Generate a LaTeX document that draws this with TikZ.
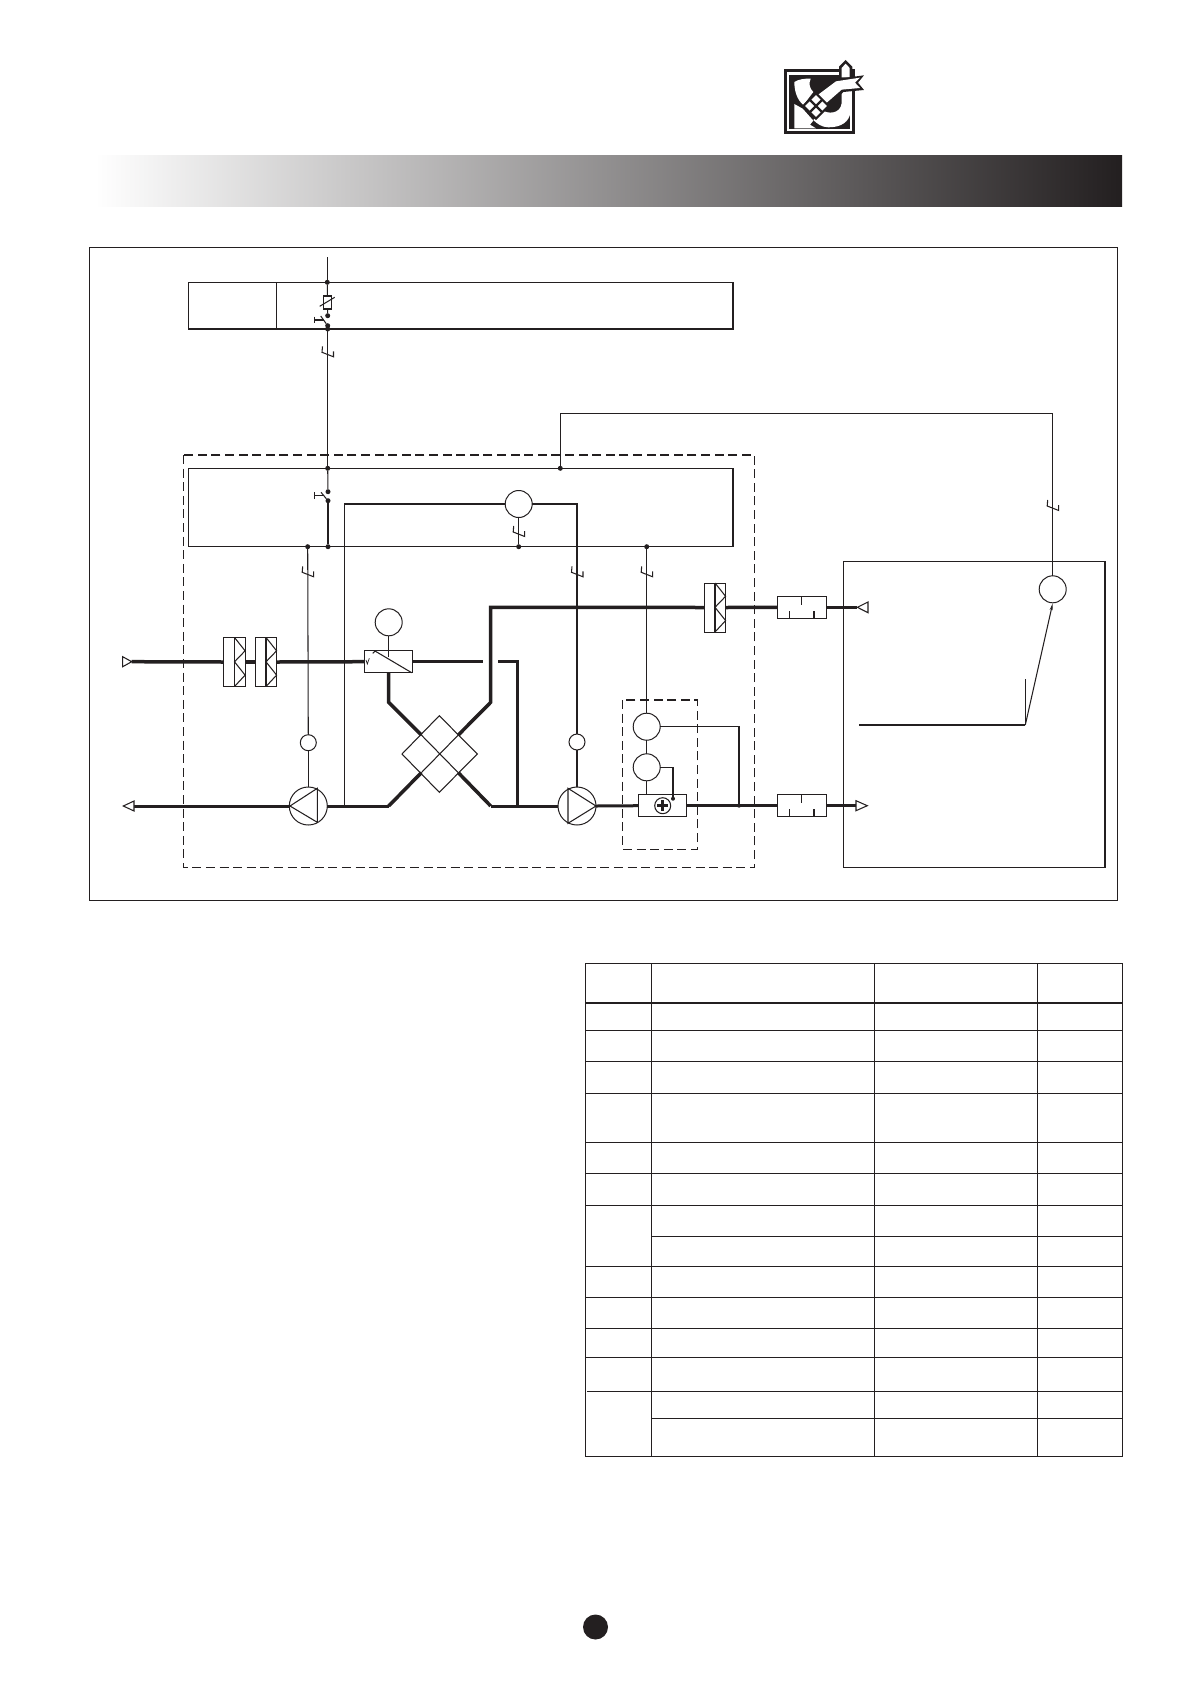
\documentclass[tikz,border=0pt]{standalone}
\usetikzlibrary{arrows.meta,shapes.geometric}
\definecolor{ink}{HTML}{231F20}
\tikzset{
  wire/.style={line width=1.05pt,draw=ink},
  sym/.style={line width=1.05pt,draw=ink},
  duct/.style={line width=3.5pt,draw=ink,line join=miter},
  ductm/.style={line width=3pt,draw=ink,line join=miter},
  dashbox/.style={line width=1.1pt,draw=ink,dash pattern=on 9pt off 4.6pt},
  grid/.style={line width=1pt,draw=ink},
  jdot/.style={circle,fill=ink,inner sep=0pt,minimum size=5pt,outer sep=0pt},
  bigc/.style={circle,draw=ink,line width=1pt,fill=white,inner sep=0pt,minimum size=27pt,outer sep=0pt},
  smallc/.style={circle,draw=ink,line width=1pt,fill=white,inner sep=0pt,minimum size=16pt,outer sep=0pt},
  pumpc/.style={circle,draw=ink,line width=1pt,fill=white,inner sep=0pt,minimum size=38pt,outer sep=0pt},
  filterbox/.style={rectangle,draw=ink,line width=1pt,fill=white,inner sep=0pt,minimum width=21.8pt,minimum height=49pt,outer sep=0pt},
  silencer/.style={rectangle,draw=ink,line width=1pt,fill=white,inner sep=0pt,minimum width=48.7pt,minimum height=22pt,outer sep=0pt},
  devbox/.style={rectangle,draw=ink,line width=1pt,fill=white,inner sep=0pt,minimum width=48.3pt,minimum height=22pt,outer sep=0pt},
  ctick/.pic={\draw[wire] (-5,-7) -- (-5.5,-1) -- (6,3.5) -- (6,-2);},
}
\newcommand{\filterzig}[1]{\draw[sym] (#1.north) -- (#1.south);
  \draw[sym] (#1.north) -- ++(10.6,13.3) -- ++(-10.6,11) -- ++(10.6,13.3) -- (#1.south);}
\newcommand{\silencerticks}[1]{\draw[sym] (#1.north) -- ++(0,8.5);
  \draw[sym] (#1.south) ++(-12.3,0) -- ++(0,-7.3);
  \draw[sym] (#1.south) ++(12.3,0) -- ++(0,-7.3);}
\begin{document}
\begin{tikzpicture}[x=1pt,y=-1pt]
\useasboundingbox (0,0) rectangle (1190,1684);
% header bar
\shade[left color=white,right color=ink] (95,155.3) rectangle (1122,206.9);
% logo
\begin{scope}[shift={(760,40)},x=0.3333pt,y=-0.3333pt]
  \fill[ink] (72,88) rectangle (285,282);
  \fill[white] (80,96) rectangle (276,274);
  \fill[ink] (87,104) rectangle (271,266);
  % house
  \fill[ink] (237,112) -- (237,80) -- (257,60) -- (277,80) -- (277,112) -- cycle;
  \fill[white] (245,112) -- (245,84) -- (257,71) -- (269,84) -- (269,112) -- cycle;
  % upper-left blob
  \fill[white] (103,126) .. controls (115,118) and (135,115) .. (152,116) .. controls (146,130) and (148,145) .. (160,156) -- (130,195) .. controls (112,180) and (103,155) .. (103,126) -- cycle;
  % lower-left blob
  \fill[white] (103,192) -- (128,206) -- (160,242) -- (150,254) -- (168,265) -- (103,265) -- cycle;
  % pipe
  \fill[white] (245,156) -- (272,150) -- (272,215) .. controls (268,245) and (245,262) .. (205,262) .. controls (185,262) and (170,250) .. (160,240) -- (190,212) .. controls (200,220) and (240,225) .. (245,190) -- cycle;
  % ribbon
  \fill[ink] (222,118) -- (312,106) -- (294,128) -- (312,150) -- (250,156) -- (200,205) -- (160,170) -- cycle;
  \fill[white] (172,166) -- (228,124) -- (300,113) -- (285,128) -- (300,144) -- (245,149) -- (198,190) -- cycle;
  % diamond lattice
  \fill[white] (168,160) -- (206,198) -- (168,236) -- (130,198) -- cycle;
  \draw[ink,line width=2.2pt] (168,160) -- (206,198) -- (168,236) -- (130,198) -- cycle;
  \draw[ink,line width=2.2pt] (149,179) -- (187,217) (187,179) -- (149,217);
\end{scope}
% outer frame
\draw[line width=1.1pt,draw=ink] (89.3,247.3) rectangle (1117.7,900.3);
% dashed housings
\draw[dashbox] (183.5,455) rectangle (754.7,867.8);
\draw[dashbox] (622.7,700) rectangle (697.3,849.3);
% panels
\draw[wire] (188.5,282.3) rectangle (733,329);
\draw[wire] (276.7,282.3) -- (276.7,329);
\draw[wire] (188.7,468.3) rectangle (733,546.7);
\draw[wire] (843.3,561.7) rectangle (1105,867.7);
% junctions and device nodes
\coordinate (feed) at (327.3,257.3);
\node[jdot] (j1) at (327.3,282.3) {};
\node[jdot] (j2) at (327.7,315.7) {};
\node[jdot] (j3) at (327.7,325.7) {};
\node[jdot] (j4) at (327.7,329) {};
\node[jdot] (j5) at (327.7,468.3) {};
\node[jdot] (j6) at (328,491.7) {};
\node[jdot] (j7) at (328,500.7) {};
\node[jdot] (j8) at (328,546.7) {};
\node[jdot] (j9) at (307.7,546.7) {};
\node[jdot] (j10) at (518.7,546.7) {};
\node[jdot] (j11) at (646.7,546.7) {};
\node[jdot] (j12) at (560.3,468.3) {};
\coordinate (cnr1) at (560.3,413.5);
\coordinate (cnr2) at (1052.7,413.5);
\node[bigc] (cm) at (518.7,504) {};
\node[bigc] (croom) at (1052.7,589.3) {};
\node[bigc] (cv) at (388.7,622.3) {};
\node[bigc] (c1) at (646.7,726.7) {};
\node[bigc] (c2) at (646.7,767.3) {};
\node[smallc] (s1) at (308.3,742.7) {};
\node[smallc] (s2) at (577,742) {};
\node[pumpc] (p1) at (308.3,806) {};
\node[pumpc] (p2) at (577,806) {};
\node[filterbox] (f1) at (234.5,662) {};
\node[filterbox] (f2) at (266,662) {};
\node[filterbox] (f3) at (715,607.5) {};
\node[silencer] (sil1) at (801.7,607.3) {};
\node[silencer] (sil2) at (801.7,805.7) {};
\node[devbox] (valve) at (388.5,661.7) {};
\node[devbox] (heater) at (662.8,805.7) {};
\node[jdot,minimum size=4pt] (hd) at (673,798.7) {};
\node[jdot,minimum size=4pt] (j13) at (739,805.7) {};
\coordinate (inA) at (131.7,661.7);
\coordinate (outA) at (131.7,806);
\coordinate (retA) at (857.3,607.3);
\coordinate (supA) at (856,805.7);
\coordinate (hxNW) at (421.3,735);
\coordinate (hxNE) at (458.3,735);
\coordinate (hxSW) at (421.3,772.7);
\coordinate (hxSE) at (458.3,772.7);
\coordinate (ductN1) at (388.7,702.3);
\coordinate (ductN2) at (490.7,702.3);
\coordinate (ductN3) at (490.7,607.3);
\coordinate (ductS1) at (388.7,806);
\coordinate (ductS2) at (490.7,806);
\coordinate (bypassA) at (412.7,661.7);
\coordinate (bypassB) at (483.3,661.7);
\coordinate (bypassC) at (498.3,661.7);
\coordinate (bypassD) at (517.3,661.7);
\coordinate (bypassE) at (517.3,806);
\coordinate (lwA) at (859,725);
\coordinate (lwB) at (1025.3,725);
\coordinate (lwC) at (1025.3,679.3);
\coordinate (lwD) at (1052.7,603.3);
\coordinate (wA) at (344.7,504);
\coordinate (wB) at (344.7,806);
\coordinate (wC) at (577,504);
% ducts
\draw[duct] (inA) -- (f1.west);
\draw[duct] (f1.east) -- (f2.west);
\draw[duct] (f2.east) -- (valve.west);
\draw[duct] (bypassA) -- (bypassB);
\draw[duct] (bypassC) -- (bypassD) -- (bypassE);
\draw[duct] (valve.south -| ductN1) -- (ductN1) -- (hxNW);
\draw[duct] (hxNE) -- (ductN2) -- (ductN3) -- (f3.west);
\draw[duct] (f3.east) -- (sil1.west);
\draw[duct] (sil1.east) -- (retA);
\draw[ductm] (outA) -- (p1.west);
\draw[ductm] (p1.east) -- (ductS1);
\draw[duct] (ductS1) -- (hxSW);
\draw[duct] (hxSE) -- (ductS2);
\draw[ductm] (ductS2) -- (p2.west);
\draw[ductm] (p2.east) -- (heater.west);
\draw[duct] (heater.east) -- (sil2.west);
\draw[duct] (sil2.east) -- (supA);
% heat exchanger
\draw[sym,line join=miter] (439.3,715.7) -- (477.3,754) -- (439.3,792.3) -- (402,754) -- cycle;
\draw[sym] (hxNW) -- (hxSE);
\draw[sym] (hxNE) -- (hxSW);
% wiring
\draw[wire] (feed) -- (j1);
\draw[wire] (j1) -- (j2);
\draw[wire] (j3) -- (j5);
\draw[wire] (j5) -- (j6);
\draw[wire] (j7) -- (j8);
\draw[wire] (j9) -- (s1);
\draw[wire] (s1) -- (p1);
\draw[wire] (wB) -- (wA) -- (cm);
\draw[wire] (cm) -- (wC) -- (s2);
\draw[wire] (s2) -- (p2);
\draw[wire] (cm) -- (j10);
\draw[wire] (j11) -- (c1);
\draw[wire] (c1) -- (c2);
\draw[wire] (c2.south) -- (c2.south |- heater.north);
\draw[wire] (c2.east) -| (hd);
\draw[wire] (c1.east) -| (j13);
\draw[wire] (j12) -- (cnr1) -- (cnr2) -- (croom);
\draw[wire] (cv) -- ++(0,34.4);
\draw[wire] (lwC) -- (lwB);
\draw[wire] (lwA) -- (lwB);
\draw[wire,-{Stealth[length=7pt,width=3pt]}] (lwB) -- (lwD);
% cable ticks
\pic at (327.5,353.3) {ctick};
\pic at (518.7,533) {ctick};
\pic at (307.7,573.3) {ctick};
\pic at (577,573.3) {ctick};
\pic at (646.7,573.3) {ctick};
\pic at (1052.7,507) {ctick};
% fuse and switches
\draw[sym,fill=white] (323.7,296) rectangle (331.3,309);
\draw[sym] (319.7,306.3) -- (334.7,297.3);
\draw[sym] (j3) -- (320.7,316);
\draw[sym] (323.7,320) -- (314.3,320) (314.3,316.7) -- (314.3,323.3);
\draw[sym] (j7) -- (321,492.3);
\draw[sym] (324,495.7) -- (314.3,495.7) (314.3,492.4) -- (314.3,499);
% filter and silencer details
\filterzig{f1}
\filterzig{f2}
\filterzig{f3}
\silencerticks{sil1}
\silencerticks{sil2}
% pump triangles
\draw[sym,line join=miter] (317.3,788.3) -- (290,806) -- (317.3,822.3) -- cycle;
\draw[sym,line join=miter] (568,788.3) -- (596,806) -- (568,823.3) -- cycle;
% valve details
\draw[sym] (375,651) -- (411.7,672.7);
\draw[sym] (372.7,653.3) -- (375,651);
\draw[sym,line width=0.7pt] (366,660) -- (367.3,664) -- (369.3,658.3);
% heater details
\draw[sym,fill=white] (662.7,805.7) circle (8);
\draw[ink,line width=2.6pt] (657,805.7) -- (668.4,805.7) (662.7,800) -- (662.7,811.4);
% open flow arrows
\draw[sym,fill=white,line join=miter] (122.7,656.7) -- (131.7,661.7) -- (122.7,666.7) -- cycle;
\draw[sym,fill=white,line join=miter] (123.3,806) -- (134,801) -- (134,811) -- cycle;
\draw[sym,fill=white,line join=miter] (857.3,607.3) -- (868,602) -- (868,612.7) -- cycle;
\draw[sym,fill=white,line join=miter] (856,800.7) -- (867.3,805.7) -- (856,810.7) -- cycle;
% table
\draw[grid] (585.3,963.3) rectangle (1122.7,1456.3);
\draw[grid] (651.5,963.3) -- (651.5,1456.3);
\draw[grid] (874.5,963.3) -- (874.5,1456.3);
\draw[grid] (1037,963.3) -- (1037,1456.3);
\draw[ink,line width=2.2pt] (585.3,1003) -- (1122.7,1003);
\foreach \ry in {1030.3,1061.3,1093.3,1142.3,1173.3,1205.3,1266.3,1297.3,1328.3,1357.3}
  \draw[grid] (585.3,\ry) -- (1122.7,\ry);
\draw[grid] (587,1391.3) -- (1122.7,1391.3);
\draw[grid] (651.5,1236) -- (1122.7,1236);
\draw[grid] (651.5,1418.3) -- (1122.7,1418.3);
% page mark
\fill[ink] (595.5,1627) circle (12.5);
\end{tikzpicture}
\end{document}
